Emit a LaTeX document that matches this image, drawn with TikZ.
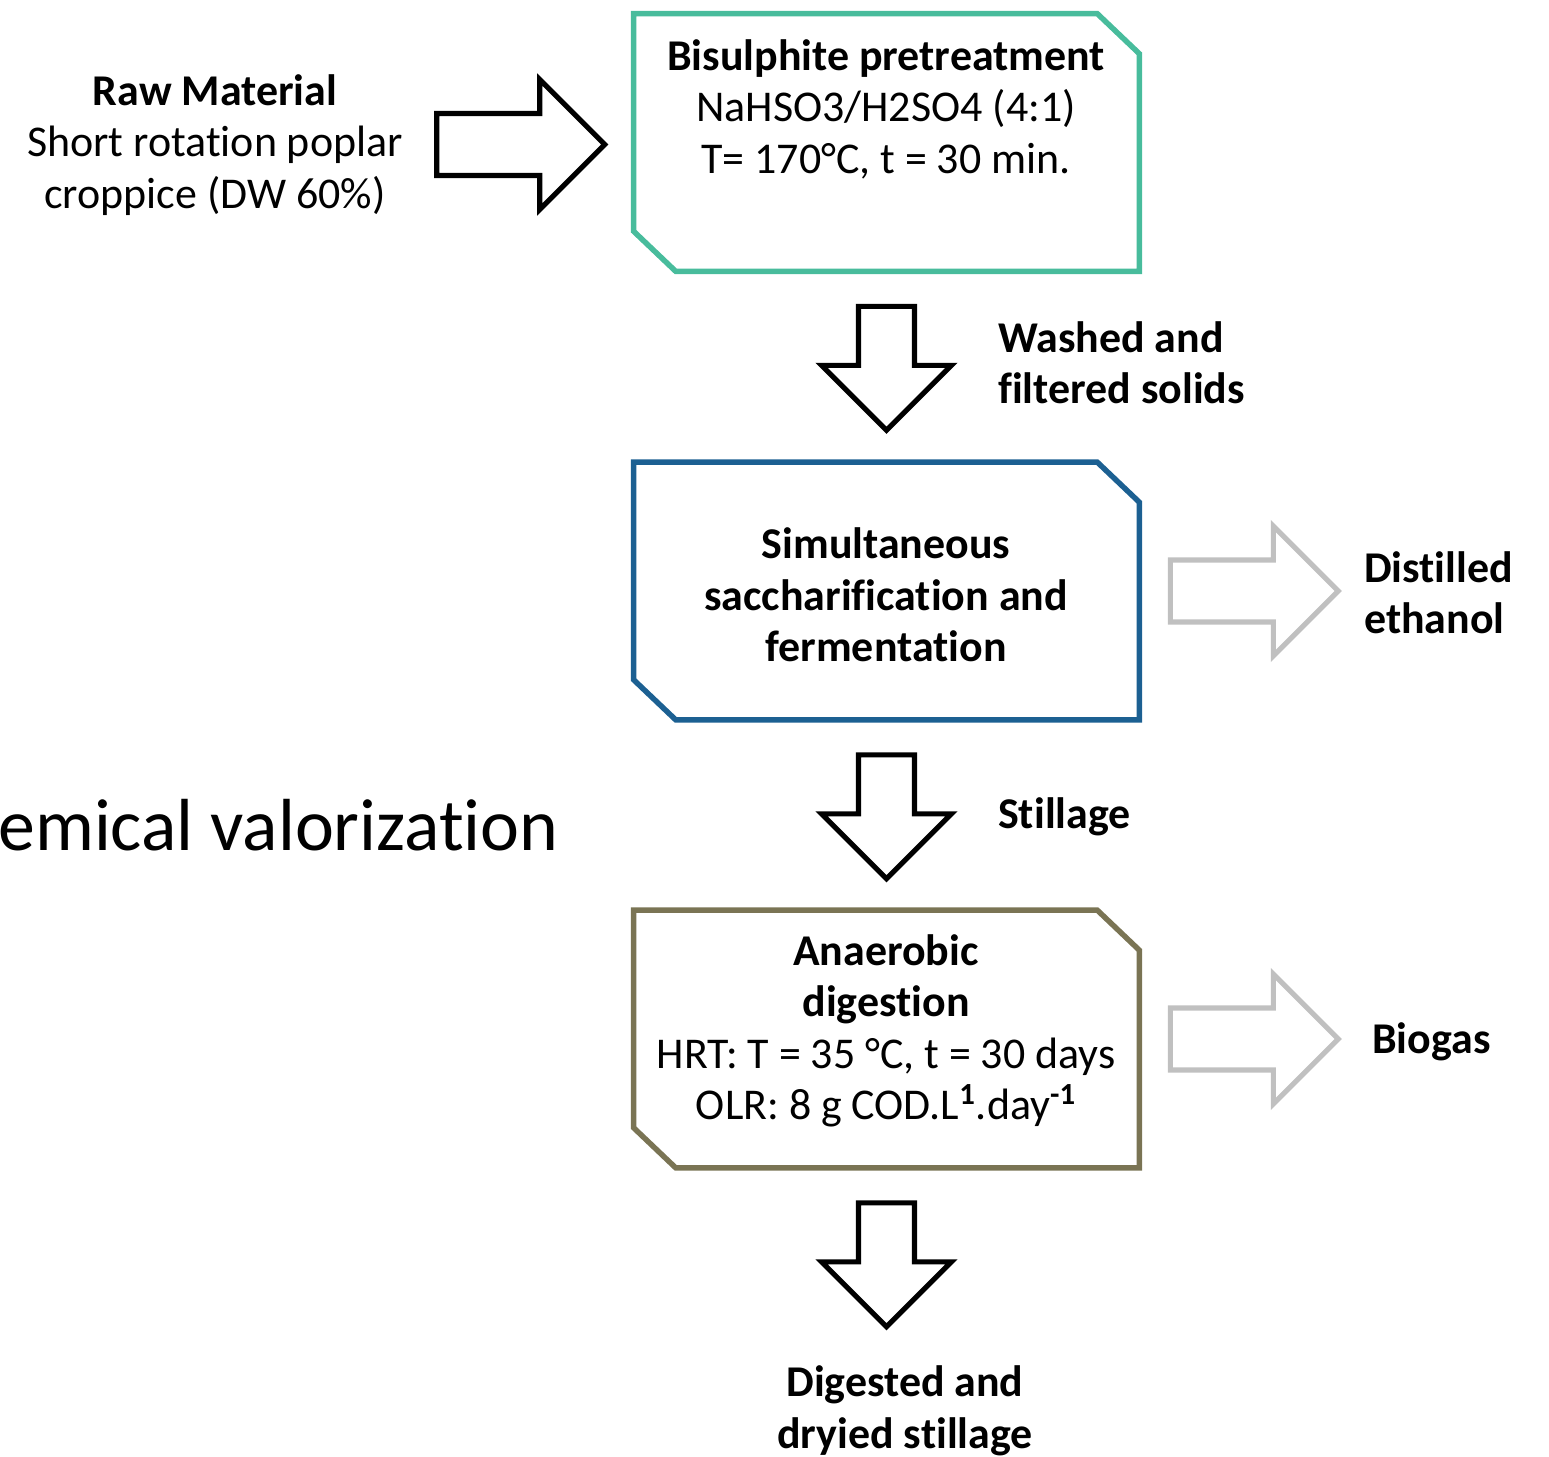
\documentclass[tikz,border=0pt]{standalone}
\usepackage{fontspec}
\setmainfont{Carlito}[Ligatures={NoCommon}]
\usetikzlibrary{calc}
\definecolor{pretreat}{RGB}{72,188,156}
\definecolor{ssfblue}{RGB}{28,96,146}
\definecolor{digolive}{RGB}{122,116,84}
\definecolor{outgray}{RGB}{192,192,192}
\newcommand{\stagebox}[2]{%
  \draw[line width=3.1pt,#2] (#1.north west) -- ($(#1.north east)+(-42,0)$) -- ($(#1.north east)+(0,40)$)
    -- (#1.south east) -- ($(#1.south west)+(42,0)$) -- ($(#1.south west)+(0,-40)$) -- cycle;}
\begin{document}
\begin{tikzpicture}[x=0.02cm,y=-0.02cm,
    stage/.style={rectangle,minimum width=10.1cm,minimum height=5.14cm,inner sep=0pt},
    txt/.style={align=center,font=\fontsize{25}{29.3}\selectfont},
    boldtxt/.style={txt,font=\fontsize{25}{29.3}\selectfont\bfseries},
    sidetxt/.style={boldtxt,align=left,anchor=west},
    blockdown/.pic={\draw[line width=2.9pt,pic actions] (-28,0)--(28,0)--(28,59)--(65,59)--(0,124)--(-65,59)--(-28,59)--cycle;},
    blockright/.pic={\draw[line width=2.9pt,pic actions] (0,-31)--(103,-31)--(103,-65)--(168,0)--(103,65)--(103,31)--(0,31)--cycle;}]
  \useasboundingbox (0,0) rectangle (1549,1457);
  % process stages
  \node[stage] (pre) at (886.5,142.5) {};
  \node[stage] (ssf) at (886.5,591) {};
  \node[stage] (ad) at (886.5,1039) {};
  \stagebox{pre}{pretreat}
  \stagebox{ssf}{ssfblue}
  \stagebox{ad}{digolive}
  \node[txt] (pretxt) at (886,109) {\textbf{Bisulphite pretreatment}\\NaHSO3/H2SO4 (4:1)\\T= 170°C, t = 30 min.};
  \node[boldtxt] (ssftxt) at (886,595) {Simultaneous\\saccharification and\\fermentation};
  \node[txt] (adtxt) at (886,1031) {\textbf{Anaerobic}\\\textbf{digestion}\\HRT: T = 35 °C, t = 30 days\\OLR: 8 g COD.L\textsuperscript{\textbf{1}}.day\textsuperscript{\textbf{-1}}};
  % inputs and outputs
  \node[txt] (raw) at (215,145) {\textbf{Raw Material}\\Short rotation poplar\\croppice (DW 60\%)};
  \node[sidetxt] (solids) at (992,363) {Washed and\\filtered solids};
  \node[sidetxt] (stillage) at (992,817) {Stillage};
  \node[sidetxt] (ethanol) at (1358,593) {Distilled\\ethanol};
  \node[sidetxt] (biogas) at (1366,1042) {Biogas};
  \node[boldtxt] (digested) at (905,1411) {Digested and\\dryied stillage};
  \node[anchor=west,inner sep=0pt,font=\fontsize{42}{48}\selectfont] (valor) at (-2,825) {emical valorization};
  % block arrows
  \pic at ($(pre.west)+(-197,2)$) {blockright};
  \pic at ($(pre.south)+(0,35)$) {blockdown};
  \pic at ($(ssf.south)+(0,35)$) {blockdown};
  \pic at ($(ad.south)+(0,35)$) {blockdown};
  \pic[draw=outgray] at ($(ssf.east)+(31,0)$) {blockright};
  \pic[draw=outgray] at ($(ad.east)+(31,0)$) {blockright};
\end{tikzpicture}
\end{document}
